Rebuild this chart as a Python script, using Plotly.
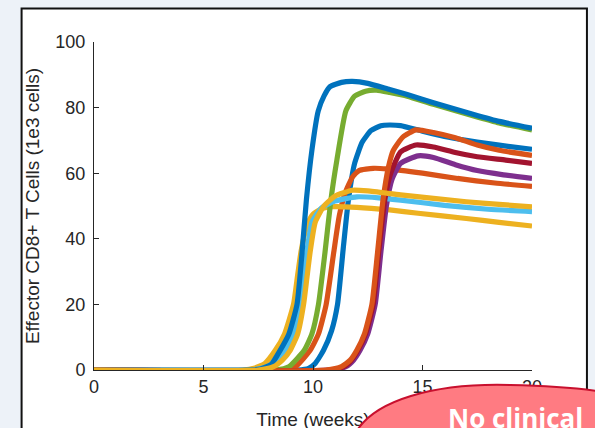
import plotly.graph_objects as go

# ---------------- data ----------------
t_blue_b = [0, 9.3, 9.8, 10.1, 10.48, 10.85, 11.12, 11.38, 11.62, 11.9, 12.25, 12.65, 13.1, 13.5, 14.0, 15.0, 16.0, 17.0, 18.0, 19.0, 20.0]
v_blue_b = [0, 0, 0.5, 2, 6, 12, 20, 37, 52, 63, 69.5, 73, 74.5, 74.7, 74.5, 72.8, 71.2, 70.0, 69.0, 68.1, 67.3]

t_orange_a = [0, 8.6, 9.2, 9.87, 10.25, 10.6, 10.95, 11.2, 11.47, 11.8, 12.1, 12.75, 13.4, 15.0, 16.6, 18.3, 20.0]
v_orange_a = [0, 0, 1, 6, 11, 20, 36, 47, 54, 58.8, 60.8, 61.5, 61.3, 60, 58.4, 57, 56]

t_yellow_b = [0, 6.8, 7.3, 7.8, 8.28, 8.7, 9.11, 9.3, 9.45, 9.6, 9.75, 10.0, 10.4, 10.9, 12.0, 13.5, 14.8, 17.0, 18.5, 20.0]
v_yellow_b = [0, 0, 0.5, 2, 6, 11, 20, 29, 36, 41, 44.5, 47.5, 49.2, 49.8, 49.6, 48.8, 47.8, 46.2, 45, 43.9]

t_purple = [0, 10.8, 11.5, 11.85, 12.15, 12.5, 12.84, 13.1, 13.35, 13.6, 14.0, 14.8, 15.5, 16.5, 17.5, 18.7, 20.0]
v_purple = [0, 0, 1, 3, 6, 11, 20, 36, 50, 58, 63, 65.3, 64.8, 62.6, 60.8, 59.5, 58.4]

t_green = [0, 8.3, 8.9, 9.6, 9.95, 10.25, 10.55, 10.82, 11.09, 11.5, 11.9, 12.4, 12.9, 13.5, 14.3, 15.5, 17.3, 18.5, 20.0]
v_green = [0, 0, 1, 6, 11, 20, 36, 52, 64, 79, 83.5, 85, 85.3, 84.6, 83.5, 81, 77.5, 75.3, 73.2]

t_lightblue = [0, 7.2, 7.9, 8.35, 8.73, 9.1, 9.42, 9.6, 9.72, 9.95, 10.4, 11.0, 12.0, 13.0, 14.0, 16.0, 18.0, 20.0]
v_lightblue = [0, 0, 1, 3, 6, 11, 20, 30, 36, 45, 49.5, 51.5, 52.8, 52.5, 51.8, 50.2, 49, 48.3]

t_darkred = [0, 10.7, 11.4, 11.75, 12.05, 12.4, 12.75, 13.0, 13.28, 13.55, 14.0, 14.7, 15.5, 16.5, 17.5, 18.8, 20.0]
v_darkred = [0, 0, 1, 3, 6, 11, 20, 36, 52, 60, 66.5, 68.6, 68, 66.3, 65, 64, 63]

t_blue_a = [0, 7.0, 7.6, 8.1, 8.5, 8.9, 9.27, 9.49, 9.7, 9.95, 10.24, 10.5, 10.78, 11.3, 11.8, 12.5, 13.5, 14.3, 15.5, 17.3, 18.5, 20.0]
v_blue_a = [0, 0, 0.3, 1.8, 6, 11, 20, 35, 52, 67, 79, 83.5, 86.4, 87.7, 88, 87.4, 85.5, 84, 81.5, 78, 75.8, 73.7]

t_orange_b = [0, 10.6, 11.3, 11.7, 12.0, 12.35, 12.69, 12.95, 13.2, 13.45, 13.67, 14.1, 14.7, 15.5, 16.5, 17.5, 18.5, 20.0]
v_orange_b = [0, 0, 1, 3, 6, 11, 20, 36, 52, 62, 67, 71, 73.2, 72.4, 70.8, 68.6, 67, 65.4]

t_yellow_a = [0, 7.5, 8.2, 8.6, 8.96, 9.3, 9.57, 9.72, 9.87, 10.1, 10.5, 11.0, 11.8, 12.5, 14.0, 17.0, 18.5, 20.0]
v_yellow_a = [0, 0, 1, 3, 6, 11, 20, 28, 36, 45, 50, 53, 54.8, 54.6, 53.4, 51.3, 50.5, 49.7]

x_ticks = [0, 5, 10, 15, 20]
y_ticks = [0, 20, 40, 60, 80, 100]
x_title = "Time (weeks)"
y_title = "Effector CD8+ T Cells (1e3 cells)"
callout_text = "No clinical"

series = [
    (t_blue_b, v_blue_b, "#0072BD"),
    (t_orange_a, v_orange_a, "#D95319"),
    (t_yellow_b, v_yellow_b, "#EDB120"),
    (t_purple, v_purple, "#7E2F8E"),
    (t_green, v_green, "#77AC30"),
    (t_lightblue, v_lightblue, "#4DBEEE"),
    (t_darkred, v_darkred, "#A2142F"),
    (t_blue_a, v_blue_a, "#0072BD"),
    (t_orange_b, v_orange_b, "#D95319"),
    (t_yellow_a, v_yellow_a, "#EDB120"),
]

# ---------------- layout geometry (pixels) ----------------
W, H = 595, 428
PL, PR, PT, PB = 93.5, 532.0, 42.0, 370.0  # plot area in px


def px(x):
    return (x - PL) / (PR - PL)


def py(y):
    return (PB - y) / (PB - PT)


fig = go.Figure()
for t, v, c in series:
    fig.add_trace(go.Scatter(x=t, y=v, mode="lines",
                             line=dict(color=c, width=5.2, shape="spline", smoothing=0.5),
                             hoverinfo="skip", showlegend=False))

# helper (empty) trace for the overlay axis that carries the x title as a tick label,
# so that the callout shape can be drawn over it
fig.add_trace(go.Scatter(x=[], y=[], xaxis="x2", mode="lines", hoverinfo="skip", showlegend=False))

FONT = "Liberation Sans, Arial"
axis_common = dict(showgrid=False, zeroline=False, showline=True, linecolor="#262626", linewidth=1,
                   ticks="inside", ticklen=5, tickwidth=1, tickcolor="#262626",
                   tickfont=dict(family=FONT, size=18, color="#262626"))

fig.update_layout(
    xaxis=dict(range=[0, 20], tickvals=x_ticks, ticktext=[str(v) for v in x_ticks], **axis_common),
    xaxis2=dict(range=[0, 20], overlaying="x", side="bottom", anchor="y", showgrid=False, zeroline=False,
                showline=False, ticks="", tickvals=[10], ticktext=[x_title], ticklabelstandoff=36,
                tickfont=dict(family=FONT, size=19, color="#262626")),
    yaxis=dict(range=[0, 100], tickvals=y_ticks, ticktext=[str(v) for v in y_ticks],
               ticklabelstandoff=4,
               title=dict(text=y_title, standoff=10, font=dict(family=FONT, size=19, color="#262626")),
               **axis_common),
)

shapes = [
    # white figure frame
    dict(type="rect", xref="paper", yref="paper", layer="below",
         x0=px(21), x1=px(587), y0=py(445), y1=py(8.5),
         fillcolor="white", line=dict(color="#111111", width=2)),
]
# red callout
path = ("M {a},{b} C {c},{d} {e},{f} {g},{h} C {i},{j} {k},{l} {m},{n} L {m},{o} L {a},{o} Z").format(
    a=px(352), b=py(440), c=px(368), d=py(398), e=px(440), f=py(383), g=px(510), h=py(385),
    i=px(560), j=py(386), k=px(590), l=py(389), m=px(615), n=py(394), o=py(445))
shapes.append(dict(type="path", xref="paper", yref="paper", layer="above", path=path,
                   fillcolor="#FF7B82", line=dict(color="#C8102E", width=2)))

fig.update_layout(
    width=W, height=H,
    margin=dict(l=PL, r=W - PR, t=PT, b=H - PB, autoexpand=False),
    paper_bgcolor="#EDF2F8", plot_bgcolor="white",
    shapes=shapes,
    annotations=[dict(text="<b>%s</b>" % callout_text, xref="paper", yref="paper",
                      x=px(446), y=py(418), xanchor="left", yanchor="middle", showarrow=False,
                      font=dict(family="Open Sans", size=26, color="white"))],
)

fig.write_html("out.html", config={"displayModeBar": False, "staticPlot": True},
               post_script="document.body.style.margin='0';document.body.style.padding='0';"
                           "document.body.style.background='#EDF2F8';document.body.style.overflow='hidden';")
